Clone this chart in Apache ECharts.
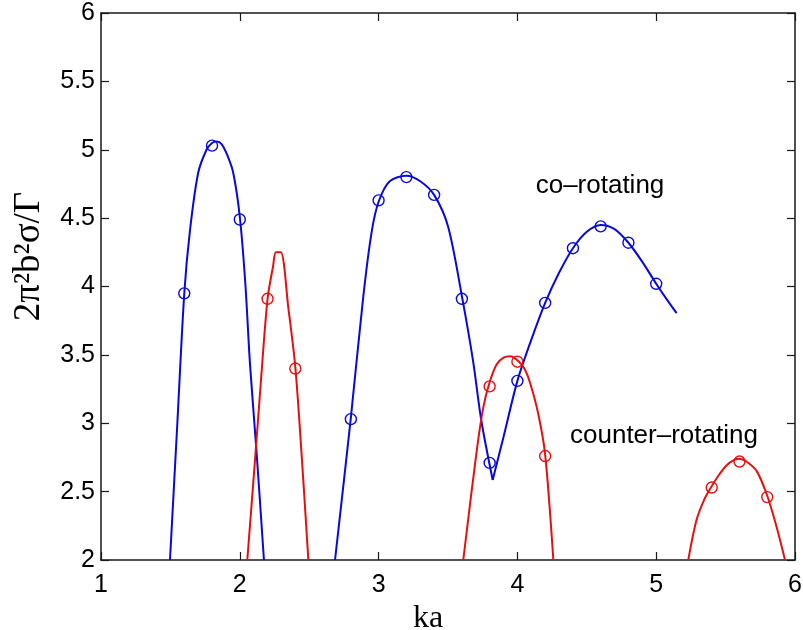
<!DOCTYPE html>
<html>
<head>
<meta charset="utf-8">
<title>Growth rate vs ka</title>
<script src="https://cdn.jsdelivr.net/npm/echarts@6/dist/echarts.min.js"></script>
<style>
  html, body { margin: 0; padding: 0; background: #ffffff; }
  #chart { width: 803px; height: 630px; }
</style>
</head>
<body>
<div id="chart"></div>
<script>
// Axis ticks
const xTicks = [1, 2, 3, 4, 5, 6];
const yTicks = [2, 2.5, 3, 3.5, 4, 4.5, 5, 5.5, 6];

// Co-rotating branch: computed curves [ka, value]
const coLobe1 = [
  [1.497, 2.0], [1.55, 3.0], [1.60, 3.95], [1.641, 4.41], [1.70, 4.83],
  [1.76, 5.0], [1.80, 5.05], [1.834, 5.06], [1.87, 5.04], [1.91, 4.96],
  [1.953, 4.83], [2.0, 4.51], [2.04, 4.02], [2.073, 3.44], [2.12, 2.80],
  [2.174, 2.0]
];
const coLobe2Left = [
  [2.686, 2.0], [2.80, 3.04], [2.89, 3.93], [2.95, 4.40], [3.0, 4.62],
  [3.08, 4.77], [3.2, 4.81], [3.3, 4.77], [3.40, 4.67], [3.50, 4.44],
  [3.60, 3.93], [3.68, 3.46], [3.74, 3.02], [3.822, 2.585]
];
const coLobe2Right = [
  [3.822, 2.585], [3.90, 2.90], [4.0, 3.31], [4.1, 3.61], [4.2, 3.88],
  [4.3, 4.10], [4.4, 4.28], [4.5, 4.40], [4.6, 4.45], [4.7, 4.42],
  [4.8, 4.32], [4.9, 4.18], [5.0, 4.02], [5.08, 3.90], [5.147, 3.805]
];

// Counter-rotating branch: computed curves [ka, value]
const counterLobe1 = [
  [2.054, 2.0], [2.12, 2.87], [2.15, 3.28], [2.2, 3.91], [2.24, 4.15],
  [2.26, 4.25], [2.295, 4.25], [2.35, 3.84], [2.40, 3.41], [2.446, 2.76],
  [2.494, 2.0]
];
const counterLobe2 = [
  [3.61, 2.0], [3.707, 2.80], [3.755, 3.12], [3.80, 3.30], [3.85, 3.43],
  [3.90, 3.48], [3.95, 3.49], [4.0, 3.46], [4.05, 3.40], [4.09, 3.30],
  [4.15, 3.07], [4.20, 2.77], [4.259, 2.0]
];
const counterLobe3 = [
  [5.231, 2.0], [5.29, 2.29], [5.35, 2.45], [5.40, 2.54], [5.45, 2.62],
  [5.51, 2.695], [5.56, 2.73], [5.60, 2.74], [5.65, 2.72], [5.724, 2.65],
  [5.80, 2.47], [5.868, 2.24], [5.928, 2.0]
];

// Sampled points (circles)
const coPoints = [
  [1.6, 3.95], [1.8, 5.03], [2.0, 4.49], [2.8, 3.03], [3.0, 4.63],
  [3.2, 4.80], [3.4, 4.67], [3.6, 3.91], [3.8, 2.71], [4.0, 3.31],
  [4.2, 3.88], [4.4, 4.28], [4.6, 4.44], [4.8, 4.32], [5.0, 4.02]
];
const counterPoints = [
  [2.2, 3.91], [2.4, 3.40], [3.8, 3.27], [4.0, 3.45], [4.2, 2.76],
  [5.4, 2.53], [5.6, 2.72], [5.8, 2.46]
];

// Curve annotations, anchored in data coordinates
const noteText = ['co\u2013rotating', 'counter\u2013rotating'];
const noteAt = [[4.595, 4.735], [5.056, 2.905]];

const BLUE = '#0808dc';
const RED = '#e41010';
const AXIS = '#1a1a1a';

const chart = echarts.init(document.getElementById('chart'), null, { renderer: 'canvas' });

function curve(data, color) {
  return {
    type: 'line', data: data, showSymbol: false, symbol: 'none',
    smooth: 0.3, lineStyle: { color: color, width: 2 }, silent: true,
    animation: false, z: 2
  };
}
function marks(data, color) {
  return {
    type: 'scatter', data: data, symbol: 'circle', symbolSize: 11,
    itemStyle: { color: 'rgba(255,255,255,0)', borderColor: color, borderWidth: 1.4, opacity: 1 },
    animation: false, z: 3
  };
}

const tickStyle = { inside: true, length: 8, lineStyle: { color: AXIS, width: 1.2 } };
const lineStyle = { show: true, onZero: false, lineStyle: { color: AXIS, width: 1.5 } };
const labelFont = { fontFamily: 'Liberation Sans, Arial, sans-serif', fontSize: 25, color: '#000' };

const option = {
  backgroundColor: '#ffffff',
  animation: false,
  grid: { left: 101, right: 8, top: 13, bottom: 70, containLabel: false, outerBoundsMode: 'none' },
  xAxis: [
    {
      type: 'value', position: 'bottom',
      min: xTicks[0], max: xTicks[xTicks.length - 1], interval: xTicks[1] - xTicks[0],
      axisLine: lineStyle, axisTick: tickStyle, splitLine: { show: false },
      axisLabel: Object.assign({ margin: 13 }, labelFont),
      name: 'ka', nameLocation: 'middle', nameGap: 29,
      nameTextStyle: {
        fontFamily: 'Liberation Serif, Times New Roman, serif', fontSize: 32, color: '#000',
        padding: [0, 40, 0, 0]
      }
    },
    {
      type: 'value', position: 'top',
      min: xTicks[0], max: xTicks[xTicks.length - 1], interval: xTicks[1] - xTicks[0],
      axisLine: lineStyle, axisTick: tickStyle, splitLine: { show: false },
      axisLabel: { show: false }
    }
  ],
  yAxis: [
    {
      type: 'value', position: 'left',
      min: yTicks[0], max: yTicks[yTicks.length - 1], interval: yTicks[1] - yTicks[0],
      axisLine: lineStyle, axisTick: tickStyle, splitLine: { show: false },
      axisLabel: Object.assign({ margin: 6 }, labelFont),
      name: '2\u03c0\u00b2b\u00b2\u03c3/\u0393', nameLocation: 'middle', nameGap: 53, nameRotate: 90,
      nameTextStyle: {
        fontFamily: 'Liberation Serif, Times New Roman, serif', fontSize: 37, color: '#000',
        padding: [0, 0, 0, 60]
      }
    },
    {
      type: 'value', position: 'right',
      min: yTicks[0], max: yTicks[yTicks.length - 1], interval: yTicks[1] - yTicks[0],
      axisLine: lineStyle, axisTick: tickStyle, splitLine: { show: false },
      axisLabel: { show: false }
    }
  ],
  series: [
    curve(coLobe1, BLUE),
    curve(coLobe2Left, BLUE),
    curve(coLobe2Right, BLUE),
    curve(counterLobe1, RED),
    curve(counterLobe2, RED),
    curve(counterLobe3, RED),
    marks(coPoints, BLUE),
    marks(counterPoints, RED),
    {
      type: 'scatter', symbolSize: 0, silent: true, animation: false,
      itemStyle: { opacity: 1 },
      data: noteAt.map(function (p, i) { return { value: p, name: noteText[i] }; }),
      label: {
        show: true, position: 'inside', formatter: '{b}',
        fontFamily: 'Liberation Sans, Arial, sans-serif', fontSize: 26, color: '#000',
        textBorderWidth: 0
      }
    }
  ]
};

chart.setOption(option);
</script>
</body>
</html>
